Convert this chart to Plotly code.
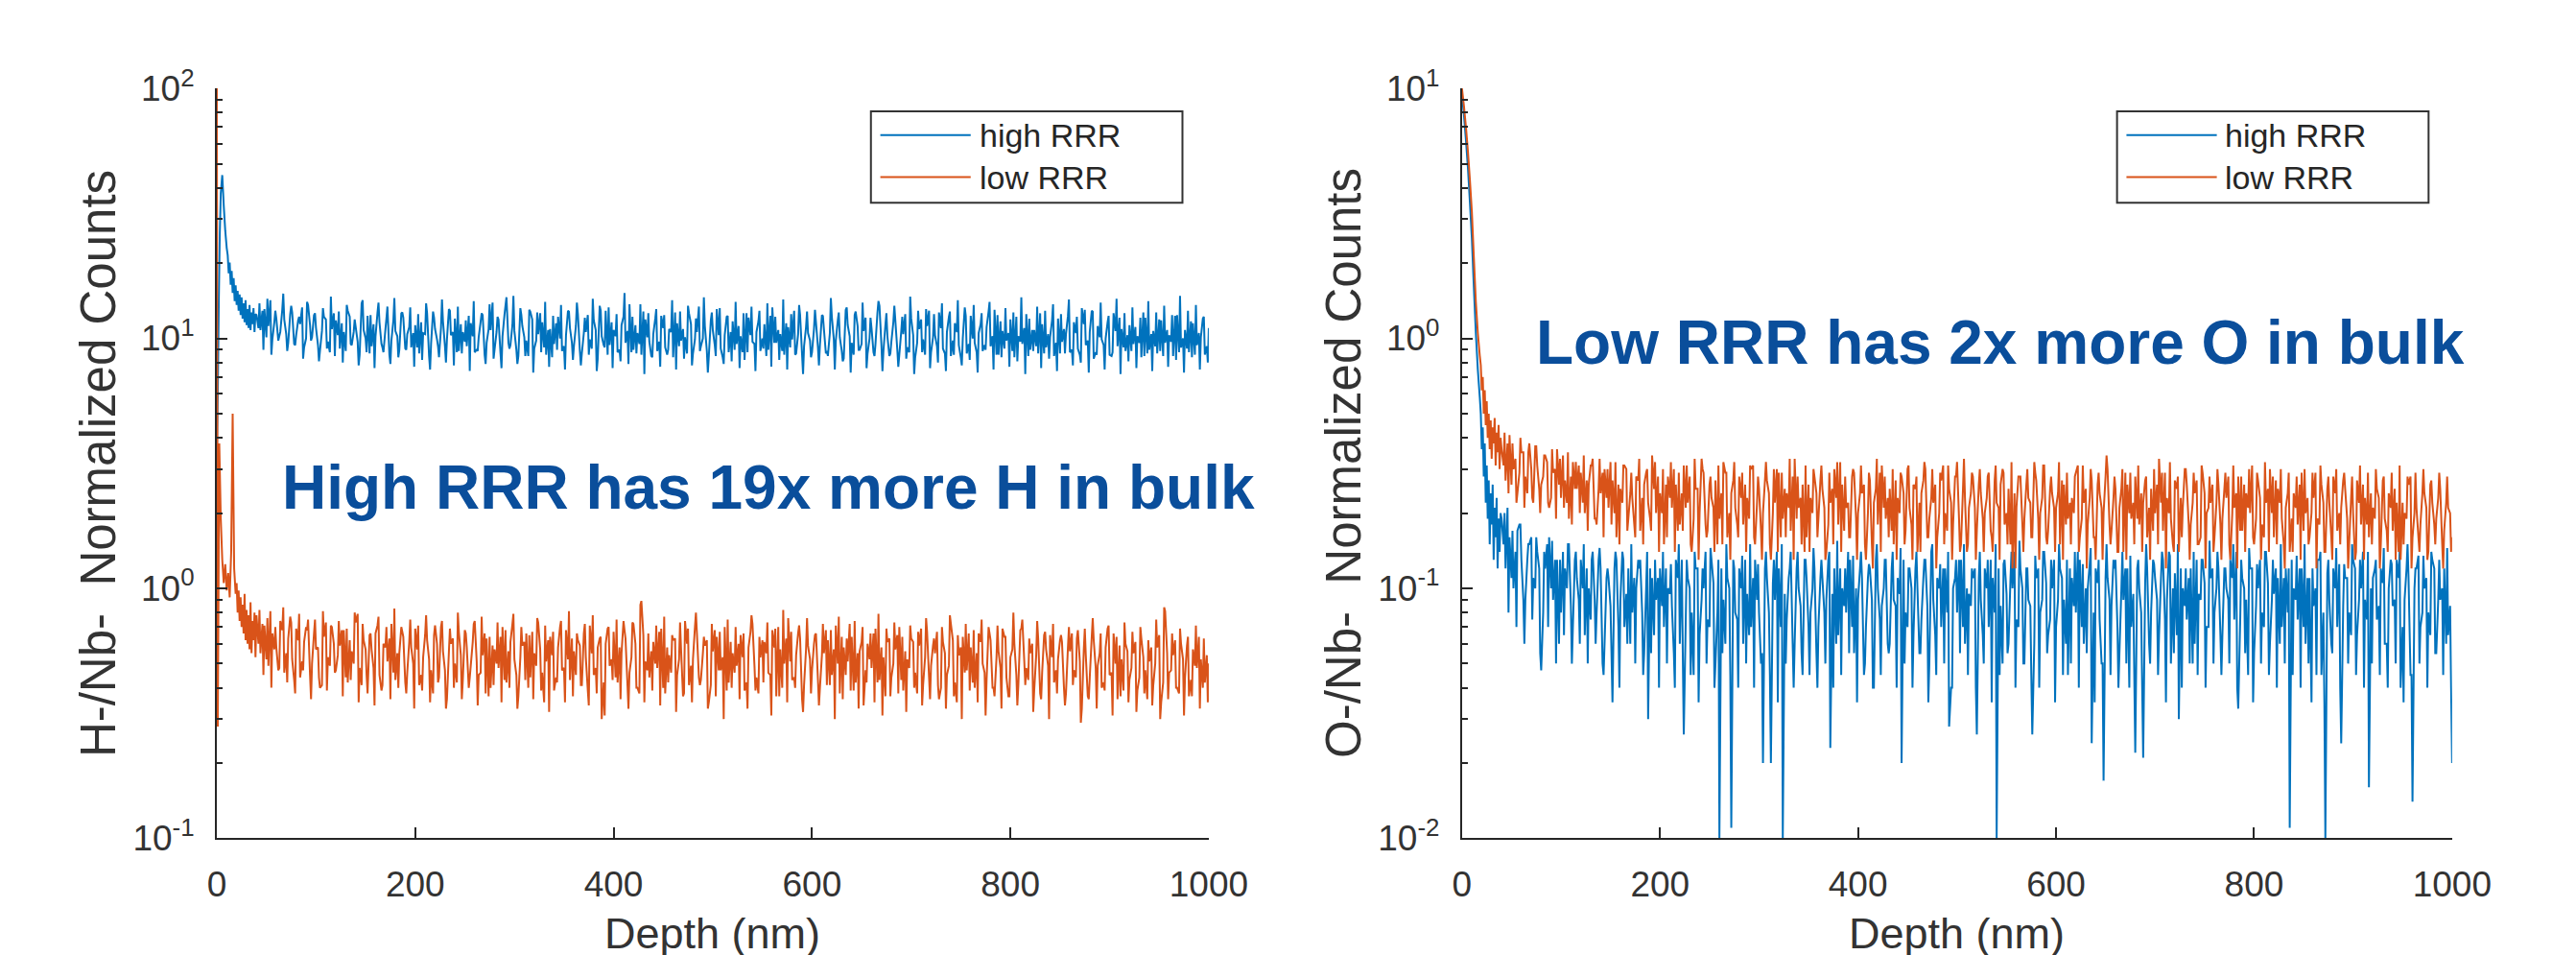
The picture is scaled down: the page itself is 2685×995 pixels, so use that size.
import plotly.graph_objects as go

# ---------------- data ----------------
X_TICKS = [0, 200, 400, 600, 800, 1000]
Y_TICKS_H = [0.1, 1, 10, 100]
Y_TEXT_H = ["10<sup>-1</sup>", "10<sup>0</sup>", "10<sup>1</sup>", "10<sup>2</sup>"]
Y_TICKS_O = [0.01, 0.1, 1, 10]
Y_TEXT_O = ["10<sup>-2</sup>", "10<sup>-1</sup>", "10<sup>0</sup>", "10<sup>1</sup>"]
SERIES_NAMES = ["high RRR", "low RRR"]

# near-surface part (depth nm, value)
H_HIGH_NEAR_DEPTH = [0, 1, 2, 3, 4, 5.5, 7, 8.5, 10, 11, 12, 13, 14, 15, 16, 17, 18, 19, 20, 21, 22, 23, 24, 25,
                     26, 27, 28, 29, 30, 31, 32, 33, 34, 35, 36, 37, 38, 39]
H_HIGH_NEAR = [3.5, 6, 14, 26, 38, 45, 34, 27, 23, 21.5, 18.2, 20.1, 16.4, 18.6, 15.2, 17.4, 14.1, 16.3, 13.6, 15.5,
               12.9, 15.0, 12.4, 14.6, 12.0, 13.8, 11.6, 14.2, 11.3, 13.1, 11.0, 13.6, 10.8, 12.7, 11.4, 13.2, 10.6, 12.5]

H_LOW_NEAR_DEPTH = [0, 1, 2.5, 4, 5.5, 7, 8.5, 10, 11.5, 13, 14.5, 16, 17.5, 19, 20, 21, 22, 23, 24, 25, 26, 27,
                    28, 29, 30, 31, 32, 33, 34, 35, 36, 37, 38, 39]
H_LOW_NEAR = [110, 0.28, 3.8, 1.9, 1.3, 1.05, 1.25, 0.98, 1.15, 0.92, 1.4, 5.0, 1.2, 0.95, 1.05, 0.8, 0.98, 0.74,
              0.92, 0.7, 0.86, 0.66, 0.95, 0.62, 0.82, 0.6, 0.78, 0.57, 0.88, 0.55, 0.74, 0.62, 0.8, 0.53]

O_NEAR_DEPTH = [0, 2, 4, 6, 8, 10, 12, 14, 16, 18, 19, 20, 21, 22, 23, 24, 25, 26, 27, 28, 29, 30, 31, 32, 33,
                34, 35, 36, 37, 38, 39]
O_HIGH_NEAR = [9.5, 7.8, 6.2, 4.8, 3.5, 2.5, 1.6, 1.05, 0.75, 0.58, 0.5, 0.36, 0.44, 0.28, 0.38, 0.22, 0.31, 0.19,
               0.27, 0.15, 0.24, 0.18, 0.26, 0.13, 0.21, 0.16, 0.23, 0.12, 0.19, 0.14, 0.2]
O_LOW_NEAR = [10, 8.5, 7.0, 5.6, 4.3, 3.2, 2.1, 1.4, 1.05, 0.85, 0.78, 0.62, 0.7, 0.5, 0.62, 0.45, 0.56, 0.4, 0.5,
              0.36, 0.47, 0.33, 0.44, 0.38, 0.48, 0.31, 0.42, 0.35, 0.45, 0.3, 0.4]

# bulk part: readings every 4 nm in three interleaved sets starting at 40, 42 and 43 nm
A_START, B_START, C_START, STEP = 40, 42, 43, 4

H_HIGH_A = [
    12.4, 10.8, 13.1, 11.2, 9.9, 12.0, 10.6, 11.9, 9.6, 12.7, 10.3, 11.4, 9.2, 13.6, 10.1, 11.0, 8.9, 12.2, 9.7, 10.9,
    11.8, 9.1, 10.6, 12.9, 9.4, 11.1, 8.6, 10.8, 12.3, 9.3, 10.2, 11.6, 8.8, 13.4, 9.8, 10.7, 9.0, 12.1, 10.4, 9.2,
    11.3, 8.7, 10.5, 12.6, 9.5, 10.9, 8.4, 11.7, 9.9, 10.3, 12.0, 8.9, 10.6, 9.3, 11.5, 8.8, 10.1, 12.4, 9.6, 10.8,
    9.0, 11.9, 10.2, 14.6, 9.4, 10.7, 8.5, 11.2, 9.8, 12.8, 9.1, 10.4, 11.6, 8.6, 10.9, 9.5, 12.2, 8.9, 10.3, 11.0,
    9.3, 12.5, 8.7, 10.6, 9.9, 11.8, 8.3, 10.2, 12.9, 9.4, 10.8, 8.8, 11.3, 9.6, 13.7, 9.0, 10.5, 8.6, 11.9, 9.7,
    10.4, 8.9, 12.3, 9.2, 10.9, 8.4, 11.5, 9.8, 10.1, 12.6, 8.7, 10.6, 9.3, 11.2, 8.5, 10.8, 13.1, 9.1, 10.3, 8.8,
    11.7, 9.5, 10.2, 8.2, 12.1, 9.7, 10.6, 8.9, 11.4, 9.0, 13.3, 9.6, 10.4, 8.6, 11.1, 9.9, 8.7, 12.4, 9.3, 10.5,
    8.8, 11.6, 9.4, 10.9, 8.5, 12.2, 9.8, 10.1, 8.3, 11.3, 9.6, 12.8, 9.0, 10.7, 8.7, 11.0, 9.5, 13.5, 8.9, 10.2,
    9.7, 11.8, 8.6, 10.4, 9.2, 12.0, 8.4, 10.9, 9.9, 11.2, 8.8, 10.3, 12.7, 9.1, 10.6, 8.5, 11.5, 9.4, 10.0, 8.7,
    12.3, 9.6, 10.5, 8.9, 11.1, 9.3, 13.0, 8.6, 10.7, 9.8, 11.9, 8.4, 10.2, 9.5, 12.5, 9.0, 10.8, 8.7, 11.4, 9.2,
    10.1, 8.5, 12.0, 9.7, 10.4, 8.8, 11.6, 9.1, 13.2, 9.4, 10.6, 8.3, 11.2, 9.9, 10.0, 8.6, 12.6, 9.3, 10.9, 8.9,
    11.3, 9.5, 10.2, 8.4, 12.1, 9.0, 10.7, 8.7, 11.8, 9.6, 10.3, 8.5, 12.4, 9.2, 10.8, 8.8, 11.5, 9.4, 10.1, 8.6,
    11.0,
]
H_HIGH_B = [
    11.0, 12.9, 10.1, 14.2, 11.6, 9.8, 13.0, 10.4, 12.5, 9.5, 11.8, 13.3, 10.0, 11.3, 12.4, 9.4, 10.7, 11.9, 8.8, 12.6,
    10.3, 11.5, 8.9, 12.2, 10.6, 9.7, 13.8, 10.0, 8.7, 11.4, 12.7, 9.5, 10.9, 8.6, 11.8, 10.2, 12.6, 9.1, 11.1, 10.5,
    9.2, 11.6, 10.4, 8.5, 12.8, 9.9, 11.0, 9.3, 13.1, 10.6, 8.8, 11.4, 9.7, 12.3, 10.2, 9.0, 11.7, 8.6, 10.9, 13.9,
    10.6, 8.7, 12.4, 9.6, 11.3, 9.0, 13.2, 10.1, 8.5, 11.9, 9.8, 12.6, 9.2, 10.8, 8.4, 11.5, 10.0, 9.3, 12.9, 9.6,
    11.2, 8.9, 10.5, 12.4, 9.1, 10.8, 13.5, 9.4, 8.6, 11.6, 10.2, 9.0, 12.2, 10.7, 8.8, 11.3, 9.5, 12.8, 10.1, 8.5,
    12.0, 9.7, 11.0, 8.6, 10.6, 12.7, 9.3, 10.9, 8.7, 11.4, 9.9, 13.4, 10.0, 8.9, 11.8, 9.4, 10.3, 8.4, 12.2, 10.6,
    9.0, 11.2, 8.8, 12.6, 10.3, 9.5, 11.7, 10.0, 8.5, 12.3, 9.6, 10.8, 8.9, 11.5, 9.2, 12.9, 10.4, 8.6, 11.1, 9.8,
    10.9, 9.2, 12.4, 8.7, 10.5, 9.9, 11.8, 8.9, 13.0, 10.2, 8.6, 11.2, 9.5, 12.1, 10.0, 8.8, 12.7, 9.4, 11.3, 8.5,
    11.6, 9.0, 10.7, 12.5, 8.8, 10.3, 9.6, 11.9, 8.6, 12.9, 10.1, 9.3, 11.0, 8.7, 12.2, 9.8, 10.6, 8.4, 13.3, 9.5,
    10.0, 8.8, 11.4, 9.4, 12.8, 10.2, 8.6, 11.7, 9.1, 10.5, 8.9, 12.2, 9.7, 11.0, 8.5, 10.8, 9.3, 12.6, 8.7, 10.4,
    11.8, 9.6, 8.7, 10.9, 12.3, 9.0, 10.5, 8.6, 11.4, 9.8, 12.9, 8.8, 10.1, 9.4, 11.6, 8.5, 10.7, 12.1, 9.2, 10.3,
    8.9, 11.1, 9.6, 12.7, 8.7, 10.4, 9.3, 11.9, 8.5, 10.8, 9.7, 12.3, 8.8, 10.0, 9.1, 11.7, 8.6, 10.5, 12.0, 9.3,
]
H_HIGH_C = [
    13.8, 9.0, 14.4, 8.6, 12.9, 10.2, 15.1, 8.9, 13.5, 9.4, 12.2, 8.3, 14.0, 9.8, 12.6, 8.1, 13.2, 9.1, 14.7, 8.5,
    12.8, 8.0, 13.6, 9.5, 11.9, 7.8, 14.2, 8.8, 12.4, 7.6, 13.9, 9.2, 12.0, 7.9, 14.5, 8.4, 12.7, 9.0, 13.3, 7.7,
    12.5, 8.2, 13.8, 7.5, 12.1, 9.3, 14.3, 8.0, 12.9, 7.8, 13.4, 8.7, 11.8, 7.4, 14.1, 8.9, 12.6, 7.9, 13.7, 8.3,
    12.2, 7.6, 13.5, 9.1, 14.8, 7.9, 12.4, 8.5, 13.0, 7.3, 12.7, 8.8, 14.0, 7.7, 12.3, 9.0, 13.6, 7.5, 12.8, 8.2,
    13.9, 7.8, 12.1, 8.6, 14.4, 7.4, 12.9, 9.2, 13.3, 7.6, 12.5, 8.1, 15.2, 7.9, 12.2, 8.7, 13.7, 7.2, 12.6, 8.4,
    13.1, 7.7, 12.4, 9.0, 14.2, 7.5, 12.8, 8.3, 13.5, 7.8, 12.0, 8.9, 14.6, 7.3, 12.7, 8.5, 13.2, 7.9, 12.3, 8.1,
    14.0, 7.6, 12.6, 8.8, 13.4, 7.4, 12.9, 9.1, 13.8, 7.7, 12.2, 8.2, 14.3, 7.5, 12.5, 8.6, 13.6, 7.2, 12.8, 8.4,
    13.0, 7.8, 12.3, 8.9, 14.5, 7.5, 12.7, 8.1, 13.3, 7.3, 12.4, 9.0, 13.9, 7.6, 12.1, 8.5, 14.1, 7.4, 12.6, 8.7,
    13.5, 7.7, 12.2, 8.3, 14.7, 7.2, 12.9, 8.8, 13.1, 7.6, 12.5, 8.0, 13.8, 7.4, 12.8, 8.6, 14.2, 7.8, 12.3, 8.2,
    13.6, 7.3, 12.6, 9.0, 14.0, 7.5, 12.4, 8.4, 13.2, 7.7, 12.7, 8.1, 14.6, 7.2, 12.0, 8.9, 13.4, 7.6, 12.9, 8.3,
    13.7, 7.4, 12.5, 8.7, 14.3, 7.8, 12.2, 8.0, 13.0, 7.3, 12.8, 8.6, 13.9, 7.5, 12.3, 8.8, 14.4, 7.2, 12.6, 8.1,
    13.3, 7.6, 12.1, 8.5, 14.1, 7.4, 12.7, 8.9, 13.5, 7.7, 12.4, 8.2, 14.8, 7.3, 12.9, 8.4, 13.6, 7.5, 12.2, 8.0,
]

H_LOW_A = [
    0.78, 0.55, 0.71, 0.49, 0.66, 0.58, 0.74, 0.46, 0.63, 0.52, 0.69, 0.44, 0.61, 0.75, 0.50, 0.57, 0.40, 0.64, 0.53, 0.70,
    0.47, 0.59, 0.68, 0.42, 0.56, 0.73, 0.48, 0.62, 0.38, 0.57, 0.66, 0.45, 0.60, 0.51, 0.72, 0.43, 0.55, 0.64, 0.46, 0.58,
    0.69, 0.41, 0.53, 0.62, 0.47, 0.71, 0.44, 0.56, 0.36, 0.60, 0.50, 0.67, 0.43, 0.58, 0.49, 0.74, 0.45, 0.54, 0.63, 0.40,
    0.57, 0.48, 0.70, 0.42, 0.61, 0.52, 0.37, 0.59, 0.66, 0.44, 0.55, 0.73, 0.46, 0.51, 0.64, 0.39, 0.58, 0.47, 0.68, 0.43,
    0.56, 0.62, 0.41, 0.53, 0.71, 0.45, 0.58, 0.30, 0.60, 0.49, 0.67, 0.42, 0.55, 0.63, 0.46, 0.72, 0.40, 0.89, 0.51, 0.44,
    0.61, 0.48, 0.69, 0.38, 0.54, 0.62, 0.45, 0.57, 0.74, 0.41, 0.52, 0.66, 0.43, 0.59, 0.35, 0.56, 0.64, 0.47, 0.70, 0.42,
    0.55, 0.49, 0.65, 0.39, 0.58, 0.72, 0.44, 0.53, 0.61, 0.46, 0.68, 0.37, 0.57, 0.50, 0.76, 0.43, 0.54, 0.63, 0.41, 0.59,
    0.47, 0.66, 0.40, 0.55, 0.62, 0.45, 0.71, 0.38, 0.58, 0.51, 0.64, 0.42, 0.56, 0.34, 0.60, 0.48, 0.69, 0.43, 0.53, 0.61,
    0.44, 0.57, 0.70, 0.39, 0.52, 0.63, 0.46, 0.59, 0.41, 0.67, 0.49, 0.55, 0.36, 0.61, 0.45, 0.72, 0.42, 0.54, 0.64, 0.47,
    0.58, 0.40, 0.66, 0.50, 0.43, 0.62, 0.37, 0.56, 0.69, 0.44, 0.53, 0.60, 0.41, 0.75, 0.48, 0.55, 0.39, 0.63, 0.46, 0.57,
    0.65, 0.42, 0.52, 0.61, 0.38, 0.56, 0.47, 0.68, 0.33, 0.54, 0.44, 0.62, 0.49, 0.40, 0.58, 0.45, 0.66, 0.36, 0.52, 0.60,
    0.43, 0.55, 0.39, 0.63, 0.47, 0.51, 0.41, 0.58, 0.35, 0.81, 0.46, 0.54, 0.40, 0.60, 0.44, 0.37, 0.57, 0.48, 0.52, 0.42,
    0.50,
]
H_LOW_B = [
    0.60, 0.72, 0.52, 0.81, 0.57, 0.47, 0.68, 0.55, 0.77, 0.43, 0.62, 0.51, 0.70, 0.45, 0.66, 0.58, 0.41, 0.73, 0.49, 0.60,
    0.54, 0.68, 0.44, 0.62, 0.50, 0.79, 0.41, 0.57, 0.65, 0.48, 0.71, 0.39, 0.58, 0.63, 0.46, 0.55, 0.70, 0.42, 0.61, 0.50,
    0.57, 0.45, 0.65, 0.52, 0.38, 0.60, 0.70, 0.47, 0.56, 0.63, 0.42, 0.54, 0.68, 0.40, 0.61, 0.51, 0.46, 0.66, 0.37, 0.59,
    0.50, 0.64, 0.43, 0.56, 0.72, 0.45, 0.53, 0.61, 0.40, 0.67, 0.49, 0.57, 0.35, 0.62, 0.54, 0.44, 0.70, 0.48, 0.52, 0.63,
    0.45, 0.59, 0.66, 0.39, 0.55, 0.48, 0.63, 0.42, 0.69, 0.52, 0.44, 0.58, 0.74, 0.41, 0.53, 0.60, 0.38, 0.65, 0.47, 0.56,
    0.50, 0.67, 0.40, 0.58, 0.46, 0.63, 0.52, 0.37, 0.60, 0.49, 0.70, 0.44, 0.55, 0.62, 0.41, 0.68, 0.47, 0.53, 0.39, 0.61,
    0.46, 0.60, 0.53, 0.42, 0.67, 0.49, 0.38, 0.62, 0.55, 0.45, 0.58, 0.70, 0.40, 0.63, 0.51, 0.44, 0.66, 0.36, 0.57, 0.52,
    0.60, 0.43, 0.54, 0.68, 0.41, 0.57, 0.50, 0.64, 0.45, 0.72, 0.39, 0.55, 0.61, 0.47, 0.52, 0.66, 0.42, 0.58, 0.37, 0.63,
    0.50, 0.65, 0.43, 0.56, 0.48, 0.61, 0.38, 0.69, 0.53, 0.44, 0.59, 0.67, 0.40, 0.55, 0.49, 0.62, 0.35, 0.58, 0.46, 0.66,
    0.42, 0.55, 0.61, 0.46, 0.70, 0.40, 0.53, 0.48, 0.64, 0.37, 0.57, 0.45, 0.68, 0.51, 0.43, 0.60, 0.54, 0.38, 0.65, 0.49,
    0.53, 0.47, 0.62, 0.40, 0.58, 0.66, 0.44, 0.51, 0.57, 0.37, 0.64, 0.48, 0.55, 0.42, 0.69, 0.46, 0.50, 0.59, 0.39, 0.56,
    0.48, 0.61, 0.44, 0.53, 0.36, 0.58, 0.50, 0.65, 0.42, 0.55, 0.47, 0.62, 0.38, 0.52, 0.59, 0.43, 0.49, 0.64, 0.40, 0.54,
]
H_LOW_C = [
    0.82, 0.45, 0.76, 0.40, 0.70, 0.48, 0.84, 0.42, 0.73, 0.38, 0.79, 0.47, 0.68, 0.36, 0.75, 0.44, 0.81, 0.39, 0.71, 0.46,
    0.74, 0.37, 0.69, 0.43, 0.80, 0.35, 0.72, 0.45, 0.66, 0.34, 0.77, 0.41, 0.70, 0.36, 0.83, 0.40, 0.67, 0.38, 0.75, 0.33,
    0.71, 0.39, 0.78, 0.35, 0.65, 0.42, 0.74, 0.33, 0.69, 0.40, 0.80, 0.36, 0.66, 0.44, 0.72, 0.34, 0.77, 0.38, 0.64, 0.41,
    0.73, 0.35, 0.68, 0.40, 0.79, 0.33, 0.70, 0.43, 0.65, 0.36, 0.76, 0.39, 0.71, 0.32, 0.67, 0.42, 0.74, 0.35, 0.81, 0.37,
    0.66, 0.41, 0.72, 0.34, 0.78, 0.38, 0.64, 0.31, 0.70, 0.43, 0.75, 0.36, 0.68, 0.33, 0.73, 0.40, 0.86, 0.35, 0.66, 0.39,
    0.71, 0.34, 0.77, 0.42, 0.65, 0.32, 0.73, 0.38, 0.69, 0.35, 0.80, 0.41, 0.64, 0.33, 0.72, 0.37, 0.67, 0.30, 0.75, 0.40,
    0.70, 0.36, 0.66, 0.33, 0.78, 0.39, 0.64, 0.42, 0.73, 0.31, 0.69, 0.37, 0.82, 0.35, 0.67, 0.40, 0.71, 0.32, 0.76, 0.38,
    0.65, 0.34, 0.72, 0.41, 0.68, 0.30, 0.77, 0.36, 0.63, 0.39, 0.74, 0.33, 0.70, 0.42, 0.66, 0.35, 0.79, 0.31, 0.69, 0.37,
    0.73, 0.38, 0.64, 0.32, 0.71, 0.40, 0.67, 0.34, 0.76, 0.36, 0.63, 0.41, 0.70, 0.33, 0.78, 0.37, 0.65, 0.30, 0.72, 0.39,
    0.68, 0.35, 0.75, 0.31, 0.66, 0.40, 0.71, 0.33, 0.64, 0.37, 0.80, 0.34, 0.69, 0.41, 0.63, 0.32, 0.74, 0.36, 0.67, 0.30,
    0.72, 0.38, 0.65, 0.34, 0.70, 0.41, 0.63, 0.29, 0.69, 0.36, 0.76, 0.33, 0.66, 0.39, 0.71, 0.31, 0.64, 0.37, 0.73, 0.35,
    0.67, 0.32, 0.70, 0.38, 0.62, 0.34, 0.75, 0.30, 0.84, 0.36, 0.66, 0.40, 0.69, 0.31, 0.64, 0.37, 0.71, 0.33, 0.63, 0.35,
]

O_HIGH_A = [
    0.19, 0.12, 0.16, 0.10, 0.17, 0.13, 0.09, 0.15, 0.11, 0.14, 0.047, 0.12, 0.16, 0.09, 0.13, 0.08, 0.12, 0.15, 0.07, 0.11,
    0.13, 0.065, 0.10, 0.14, 0.08, 0.12, 0.06, 0.11, 0.035, 0.13, 0.09, 0.07, 0.12, 0.08, 0.10, 0.13, 0.055, 0.03, 0.11, 0.09,
    0.12, 0.07, 0.10, 0.085, 0.13, 0.06, 0.026, 0.11, 0.08, 0.12, 0.065, 0.10, 0.075, 0.13, 0.05, 0.010, 0.09, 0.11, 0.011, 0.08,
    0.12, 0.06, 0.095, 0.07, 0.13, 0.08, 0.020, 0.11, 0.020, 0.09, 0.12, 0.010, 0.075, 0.14, 0.06, 0.10, 0.045, 0.11, 0.08, 0.12,
    0.07, 0.11, 0.09, 0.023, 0.12, 0.065, 0.10, 0.08, 0.13, 0.055, 0.09, 0.11, 0.07, 0.12, 0.04, 0.10, 0.085, 0.13, 0.06, 0.09,
    0.11, 0.020, 0.08, 0.12, 0.065, 0.10, 0.075, 0.13, 0.05, 0.09, 0.11, 0.07, 0.12, 0.028, 0.10, 0.08, 0.13, 0.06, 0.095, 0.11,
    0.026, 0.09, 0.12, 0.07, 0.11, 0.010, 0.085, 0.13, 0.06, 0.10, 0.075, 0.12, 0.05, 0.09, 0.026, 0.11, 0.08, 0.14, 0.065, 0.10,
    0.07, 0.12, 0.09, 0.045, 0.11, 0.08, 0.13, 0.06, 0.10, 0.024, 0.12, 0.075, 0.017, 0.11, 0.085, 0.13, 0.055, 0.09, 0.12, 0.07,
    0.022, 0.10, 0.021, 0.12, 0.08, 0.11, 0.065, 0.13, 0.09, 0.05, 0.115, 0.030, 0.10, 0.075, 0.12, 0.06, 0.095, 0.13, 0.07, 0.11,
    0.08, 0.12, 0.065, 0.10, 0.13, 0.075, 0.033, 0.11, 0.09, 0.12, 0.055, 0.10, 0.08, 0.14, 0.06, 0.095, 0.11, 0.07, 0.12, 0.011,
    0.10, 0.075, 0.12, 0.06, 0.11, 0.085, 0.13, 0.045, 0.010, 0.09, 0.12, 0.07, 0.024, 0.11, 0.08, 0.13, 0.065, 0.10, 0.09, 0.016,
    0.11, 0.075, 0.12, 0.06, 0.10, 0.085, 0.13, 0.04, 0.09, 0.11, 0.014, 0.12, 0.07, 0.10, 0.08, 0.13, 0.055, 0.09, 0.12, 0.065,
    0.02,
]
O_HIGH_B = [
    0.15, 0.21, 0.11, 0.14, 0.18, 0.09, 0.13, 0.16, 0.10, 0.12, 0.08, 0.15, 0.10, 0.13, 0.06, 0.14, 0.10, 0.085, 0.13, 0.09,
    0.10, 0.12, 0.075, 0.09, 0.13, 0.05, 0.11, 0.085, 0.12, 0.07, 0.14, 0.095, 0.06, 0.11, 0.13, 0.08, 0.10, 0.12, 0.065, 0.11,
    0.085, 0.12, 0.095, 0.055, 0.11, 0.13, 0.075, 0.10, 0.045, 0.12, 0.09, 0.14, 0.07, 0.105, 0.08, 0.12, 0.06, 0.10, 0.13, 0.075,
    0.10, 0.13, 0.065, 0.11, 0.09, 0.05, 0.12, 0.08, 0.105, 0.14, 0.07, 0.095, 0.11, 0.06, 0.12, 0.085, 0.13, 0.07, 0.10, 0.055,
    0.11, 0.08, 0.13, 0.095, 0.06, 0.12, 0.085, 0.14, 0.07, 0.10, 0.12, 0.045, 0.11, 0.09, 0.13, 0.075, 0.10, 0.06, 0.12, 0.085,
    0.095, 0.13, 0.07, 0.10, 0.12, 0.055, 0.11, 0.085, 0.14, 0.065, 0.10, 0.12, 0.08, 0.04, 0.11, 0.13, 0.07, 0.10, 0.085, 0.12,
    0.11, 0.065, 0.10, 0.13, 0.08, 0.12, 0.05, 0.095, 0.11, 0.14, 0.07, 0.10, 0.12, 0.085, 0.06, 0.12, 0.09, 0.105, 0.075, 0.13,
    0.09, 0.11, 0.06, 0.12, 0.085, 0.14, 0.07, 0.10, 0.125, 0.08, 0.105, 0.05, 0.11, 0.09, 0.13, 0.07, 0.10, 0.12, 0.04, 0.095,
    0.12, 0.08, 0.105, 0.06, 0.13, 0.09, 0.11, 0.075, 0.14, 0.10, 0.065, 0.12, 0.085, 0.11, 0.05, 0.13, 0.09, 0.105, 0.07, 0.12,
    0.10, 0.065, 0.12, 0.09, 0.11, 0.14, 0.075, 0.10, 0.045, 0.12, 0.085, 0.13, 0.07, 0.105, 0.09, 0.12, 0.06, 0.11, 0.08, 0.13,
    0.09, 0.12, 0.07, 0.11, 0.035, 0.10, 0.13, 0.08, 0.115, 0.06, 0.10, 0.125, 0.085, 0.11, 0.065, 0.12, 0.09, 0.14, 0.075, 0.10,
    0.12, 0.085, 0.105, 0.06, 0.13, 0.09, 0.11, 0.07, 0.12, 0.045, 0.10, 0.135, 0.08, 0.11, 0.065, 0.12, 0.09, 0.10, 0.06, 0.085,
]
O_HIGH_C = [
    0.20, 0.08, 0.17, 0.07, 0.18, 0.06, 0.15, 0.075, 0.16, 0.055, 0.14, 0.07, 0.155, 0.05, 0.13, 0.065, 0.15, 0.05, 0.14, 0.06,
    0.15, 0.05, 0.13, 0.06, 0.145, 0.045, 0.12, 0.055, 0.14, 0.04, 0.13, 0.06, 0.15, 0.05, 0.12, 0.045, 0.14, 0.055, 0.13, 0.04,
    0.14, 0.05, 0.125, 0.04, 0.15, 0.055, 0.13, 0.045, 0.14, 0.035, 0.12, 0.05, 0.145, 0.04, 0.13, 0.055, 0.15, 0.045, 0.12, 0.04,
    0.135, 0.05, 0.15, 0.04, 0.125, 0.055, 0.14, 0.045, 0.13, 0.035, 0.15, 0.05, 0.12, 0.04, 0.14, 0.055, 0.13, 0.045, 0.145, 0.04,
    0.13, 0.05, 0.14, 0.04, 0.155, 0.045, 0.12, 0.055, 0.135, 0.035, 0.14, 0.05, 0.125, 0.04, 0.15, 0.045, 0.13, 0.055, 0.14, 0.04,
    0.145, 0.05, 0.12, 0.04, 0.14, 0.055, 0.13, 0.035, 0.15, 0.045, 0.125, 0.05, 0.14, 0.04, 0.13, 0.055, 0.15, 0.045, 0.12, 0.04,
    0.14, 0.05, 0.13, 0.035, 0.15, 0.045, 0.125, 0.055, 0.14, 0.04, 0.155, 0.05, 0.12, 0.045, 0.135, 0.04, 0.14, 0.055, 0.13, 0.035,
    0.15, 0.045, 0.13, 0.05, 0.14, 0.04, 0.125, 0.055, 0.145, 0.035, 0.13, 0.05, 0.15, 0.045, 0.12, 0.04, 0.14, 0.05, 0.135, 0.045,
    0.13, 0.04, 0.15, 0.05, 0.125, 0.045, 0.14, 0.035, 0.135, 0.055, 0.15, 0.04, 0.12, 0.05, 0.14, 0.045, 0.13, 0.04, 0.155, 0.05,
    0.14, 0.045, 0.12, 0.05, 0.15, 0.04, 0.13, 0.055, 0.145, 0.035, 0.125, 0.05, 0.14, 0.045, 0.13, 0.04, 0.15, 0.05, 0.12, 0.045,
    0.135, 0.04, 0.15, 0.05, 0.12, 0.045, 0.14, 0.035, 0.13, 0.055, 0.145, 0.04, 0.125, 0.05, 0.15, 0.045, 0.13, 0.04, 0.14, 0.05,
    0.13, 0.045, 0.145, 0.04, 0.125, 0.05, 0.14, 0.035, 0.15, 0.045, 0.12, 0.05, 0.135, 0.04, 0.14, 0.055, 0.13, 0.045, 0.145, 0.04,
]

O_LOW_A = [
    0.36, 0.27, 0.41, 0.30, 0.24, 0.35, 0.28, 0.38, 0.22, 0.31, 0.26, 0.34, 0.21, 0.29, 0.36, 0.23, 0.27, 0.19, 0.32, 0.25,
    0.29, 0.20, 0.26, 0.33, 0.18, 0.24, 0.30, 0.21, 0.27, 0.16, 0.25, 0.31, 0.19, 0.23, 0.28, 0.17, 0.26, 0.22, 0.34, 0.20,
    0.24, 0.15, 0.28, 0.21, 0.26, 0.18, 0.31, 0.22, 0.14, 0.25, 0.20, 0.29, 0.17, 0.23, 0.27, 0.19, 0.32, 0.16, 0.24, 0.21,
    0.28, 0.18, 0.23, 0.30, 0.15, 0.25, 0.20, 0.27, 0.13, 0.22, 0.29, 0.19, 0.24, 0.17, 0.33, 0.21, 0.26, 0.16, 0.23, 0.28,
    0.19, 0.25, 0.14, 0.22, 0.30, 0.18, 0.26, 0.21, 0.16, 0.29, 0.20, 0.24, 0.13, 0.27, 0.22, 0.18, 0.31, 0.19, 0.25, 0.15,
    0.23, 0.28, 0.17, 0.21, 0.26, 0.14, 0.24, 0.30, 0.19, 0.22, 0.16, 0.27, 0.20, 0.25, 0.18, 0.32, 0.15, 0.23, 0.21, 0.28,
    0.17, 0.24, 0.20, 0.29, 0.14, 0.22, 0.26, 0.18, 0.25, 0.12, 0.21, 0.28, 0.19, 0.23, 0.16, 0.27, 0.20, 0.31, 0.17, 0.24,
    0.21, 0.15, 0.26, 0.19, 0.23, 0.29, 0.16, 0.22, 0.18, 0.27, 0.13, 0.24, 0.20, 0.30, 0.17, 0.25, 0.21, 0.14, 0.26, 0.19,
    0.28, 0.18, 0.22, 0.16, 0.25, 0.20, 0.33, 0.17, 0.23, 0.19, 0.27, 0.14, 0.21, 0.26, 0.18, 0.24, 0.15, 0.29, 0.20, 0.22,
    0.16, 0.26, 0.19, 0.23, 0.13, 0.21, 0.28, 0.17, 0.24, 0.20, 0.15, 0.27, 0.18, 0.22, 0.30, 0.16, 0.25, 0.19, 0.21, 0.14,
    0.24, 0.18, 0.29, 0.20, 0.16, 0.23, 0.19, 0.26, 0.14, 0.22, 0.28, 0.17, 0.21, 0.25, 0.15, 0.20, 0.27, 0.18, 0.23, 0.16,
    0.21, 0.25, 0.15, 0.19, 0.24, 0.17, 0.22, 0.13, 0.20, 0.26, 0.16, 0.21, 0.18, 0.24, 0.14, 0.22, 0.19, 0.25, 0.17, 0.21,
    0.16,
]
O_LOW_B = [
    0.31, 0.38, 0.26, 0.33, 0.29, 0.35, 0.24, 0.30, 0.37, 0.25, 0.28, 0.32, 0.23, 0.30, 0.26, 0.34, 0.22, 0.28, 0.25, 0.31,
    0.22, 0.27, 0.31, 0.19, 0.25, 0.29, 0.23, 0.32, 0.20, 0.26, 0.22, 0.30, 0.24, 0.18, 0.27, 0.23, 0.29, 0.19, 0.25, 0.28,
    0.20, 0.26, 0.23, 0.30, 0.17, 0.24, 0.21, 0.28, 0.19, 0.25, 0.33, 0.18, 0.26, 0.21, 0.15, 0.24, 0.29, 0.20, 0.27, 0.18,
    0.23, 0.26, 0.19, 0.31, 0.22, 0.17, 0.27, 0.24, 0.20, 0.30, 0.16, 0.25, 0.21, 0.28, 0.19, 0.23, 0.14, 0.26, 0.20, 0.24,
    0.27, 0.21, 0.18, 0.25, 0.23, 0.32, 0.17, 0.22, 0.28, 0.19, 0.24, 0.26, 0.20, 0.15, 0.25, 0.29, 0.21, 0.23, 0.17, 0.27,
    0.20, 0.24, 0.30, 0.18, 0.25, 0.22, 0.27, 0.16, 0.23, 0.26, 0.20, 0.31, 0.17, 0.22, 0.28, 0.19, 0.25, 0.14, 0.24, 0.21,
    0.26, 0.19, 0.23, 0.17, 0.27, 0.21, 0.30, 0.20, 0.15, 0.24, 0.28, 0.18, 0.26, 0.22, 0.32, 0.19, 0.23, 0.16, 0.25, 0.21,
    0.24, 0.27, 0.18, 0.22, 0.20, 0.31, 0.19, 0.25, 0.23, 0.16, 0.26, 0.21, 0.28, 0.18, 0.23, 0.14, 0.25, 0.29, 0.20, 0.22,
    0.19, 0.24, 0.27, 0.21, 0.17, 0.26, 0.22, 0.29, 0.20, 0.15, 0.25, 0.23, 0.30, 0.18, 0.22, 0.27, 0.16, 0.24, 0.21, 0.26,
    0.22, 0.18, 0.25, 0.28, 0.20, 0.24, 0.17, 0.26, 0.21, 0.31, 0.19, 0.23, 0.16, 0.25, 0.20, 0.27, 0.22, 0.15, 0.24, 0.19,
    0.21, 0.26, 0.17, 0.23, 0.20, 0.29, 0.18, 0.22, 0.25, 0.16, 0.24, 0.20, 0.27, 0.19, 0.23, 0.13, 0.22, 0.26, 0.18, 0.24,
    0.19, 0.23, 0.27, 0.17, 0.21, 0.25, 0.14, 0.22, 0.19, 0.28, 0.20, 0.16, 0.24, 0.21, 0.26, 0.18, 0.23, 0.15, 0.22, 0.20,
]
O_LOW_C = [
    0.42, 0.24, 0.38, 0.22, 0.40, 0.21, 0.35, 0.23, 0.37, 0.20, 0.34, 0.22, 0.36, 0.19, 0.33, 0.21, 0.35, 0.18, 0.32, 0.20,
    0.34, 0.17, 0.31, 0.19, 0.33, 0.16, 0.30, 0.18, 0.32, 0.15, 0.31, 0.17, 0.29, 0.16, 0.33, 0.15, 0.30, 0.17, 0.32, 0.14,
    0.30, 0.16, 0.32, 0.14, 0.29, 0.17, 0.31, 0.15, 0.33, 0.13, 0.30, 0.16, 0.28, 0.14, 0.31, 0.15, 0.29, 0.13, 0.32, 0.16,
    0.29, 0.14, 0.31, 0.16, 0.28, 0.13, 0.32, 0.15, 0.30, 0.14, 0.29, 0.16, 0.33, 0.13, 0.28, 0.15, 0.31, 0.14, 0.30, 0.16,
    0.31, 0.13, 0.29, 0.15, 0.32, 0.14, 0.28, 0.16, 0.30, 0.13, 0.31, 0.15, 0.29, 0.12, 0.33, 0.14, 0.28, 0.16, 0.30, 0.13,
    0.29, 0.15, 0.31, 0.13, 0.28, 0.14, 0.32, 0.16, 0.30, 0.12, 0.29, 0.15, 0.31, 0.13, 0.28, 0.14, 0.33, 0.15, 0.29, 0.13,
    0.30, 0.14, 0.28, 0.16, 0.31, 0.13, 0.29, 0.15, 0.32, 0.12, 0.28, 0.14, 0.30, 0.16, 0.29, 0.13, 0.31, 0.15, 0.28, 0.14,
    0.32, 0.13, 0.29, 0.15, 0.28, 0.14, 0.31, 0.12, 0.30, 0.16, 0.29, 0.13, 0.34, 0.15, 0.28, 0.14, 0.30, 0.13, 0.29, 0.15,
    0.31, 0.14, 0.28, 0.13, 0.30, 0.15, 0.29, 0.12, 0.32, 0.14, 0.28, 0.16, 0.30, 0.13, 0.29, 0.15, 0.31, 0.12, 0.28, 0.14,
    0.30, 0.13, 0.29, 0.15, 0.31, 0.12, 0.28, 0.14, 0.30, 0.16, 0.29, 0.13, 0.32, 0.14, 0.28, 0.15, 0.30, 0.12, 0.29, 0.14,
    0.28, 0.13, 0.30, 0.15, 0.29, 0.12, 0.31, 0.14, 0.28, 0.13, 0.30, 0.15, 0.29, 0.12, 0.28, 0.14, 0.31, 0.13, 0.29, 0.15,
    0.30, 0.12, 0.28, 0.14, 0.29, 0.13, 0.31, 0.15, 0.28, 0.12, 0.29, 0.14, 0.30, 0.13, 0.27, 0.15, 0.29, 0.12, 0.28, 0.14,
]

ANNOT_H = "High RRR has 19x more H in bulk"
ANNOT_O = "Low RRR has 2x more O in bulk"

# ---------------- styling ----------------
W, H = 2685, 995
BLUE = "#0072BD"
ORANGE = "#D95319"
INK = "#262626"
TXT = "#333333"
NAVY = "#0A4E9B"
FONT = "Liberation Sans, Arial, Helvetica, sans-serif"
LW = 2.0


def merge(near_d, near_v, a_vals, b_vals, c_vals):
    pts = list(zip(near_d, near_v))
    pts += [(A_START + STEP * i, v) for i, v in enumerate(a_vals)]
    pts += [(B_START + STEP * i, v) for i, v in enumerate(b_vals)]
    pts += [(C_START + STEP * i, v) for i, v in enumerate(c_vals)]
    pts.sort(key=lambda p: p[0])
    return [p[0] for p in pts], [p[1] for p in pts]


def px(x):
    return x / W


def py(y):
    return 1 - y / H


fig = go.Figure()

panels = [
    ("x", "y", merge(H_HIGH_NEAR_DEPTH, H_HIGH_NEAR, H_HIGH_A, H_HIGH_B, H_HIGH_C),
     merge(H_LOW_NEAR_DEPTH, H_LOW_NEAR, H_LOW_A, H_LOW_B, H_LOW_C)),
    ("x2", "y2", merge(O_NEAR_DEPTH, O_HIGH_NEAR, O_HIGH_A, O_HIGH_B, O_HIGH_C),
     merge(O_NEAR_DEPTH, O_LOW_NEAR, O_LOW_A, O_LOW_B, O_LOW_C)),
]
for xa, ya, (hx, hy), (lx, ly) in panels:
    fig.add_trace(go.Scatter(x=hx, y=hy, mode="lines",
                             line=dict(color=BLUE, width=LW, simplify=False),
                             name=SERIES_NAMES[0], xaxis=xa, yaxis=ya, showlegend=False))
    fig.add_trace(go.Scatter(x=lx, y=ly, mode="lines",
                             line=dict(color=ORANGE, width=LW, simplify=False),
                             name=SERIES_NAMES[1], xaxis=xa, yaxis=ya, showlegend=False))


def minor_vals(lo_exp, hi_exp):
    out = []
    for e in range(lo_exp, hi_exp):
        for m in range(2, 10):
            out.append(m * 10 ** e)
    return out


common = dict(showline=True, linecolor=INK, linewidth=2, ticks="inside", ticklen=11,
              tickwidth=2, tickcolor=INK, showgrid=False, zeroline=False, mirror=False,
              tickfont=dict(family=FONT, size=37, color=TXT))

Y_DOM = [py(881), py(61)]
fig.update_layout(
    width=W, height=H, margin=dict(l=0, r=0, t=0, b=0),
    paper_bgcolor="white", plot_bgcolor="white", showlegend=False,
    xaxis=dict(domain=[px(212), px(1266)], range=[0, 1000], tickvals=X_TICKS, anchor="y",
               ticklabelstandoff=14, **common),
    yaxis=dict(domain=Y_DOM, type="log", range=[-1, 2], tickvals=Y_TICKS_H, ticktext=Y_TEXT_H,
               anchor="x", ticklabelstandoff=14,
               minor=dict(ticks="inside", ticklen=6, tickwidth=1.5, tickcolor=INK,
                          tickmode="array", tickvals=minor_vals(-1, 2)), **common),
    xaxis2=dict(domain=[px(1535), px(2587)], range=[0, 1000], tickvals=X_TICKS, anchor="y2",
                ticklabelstandoff=14, **common),
    yaxis2=dict(domain=Y_DOM, type="log", range=[-2, 1], tickvals=Y_TICKS_O, ticktext=Y_TEXT_O,
                anchor="x2", ticklabelstandoff=14,
                minor=dict(ticks="inside", ticklen=6, tickwidth=1.5, tickcolor=INK,
                           tickmode="array", tickvals=minor_vals(-2, 1)), **common),
)

annotations = []
shapes = []

# axis titles
for xc, ytitle in [(86, "H-/Nb-  Normalized Counts"), (1410, "O-/Nb-  Normalized Counts")]:
    annotations.append(dict(x=px(xc), y=py(471), xref="paper", yref="paper", text=ytitle,
                            textangle=-90, showarrow=False, xanchor="center", yanchor="middle",
                            font=dict(family=FONT, size=51, color=TXT)))
for xc in [(212 + 1266) / 2, (1535 + 2587) / 2]:
    annotations.append(dict(x=px(xc), y=py(1014), xref="paper", yref="paper", text="Depth (nm)",
                            showarrow=False, xanchor="center", yanchor="bottom",
                            font=dict(family=FONT, size=45, color=TXT)))

# big statements
annotations.append(dict(x=px(279), y=py(497), xref="paper", yref="paper", text="<b>%s</b>" % ANNOT_H,
                        showarrow=False, xanchor="left", yanchor="middle",
                        font=dict(family=FONT, size=64, color=NAVY)))
annotations.append(dict(x=px(1612), y=py(339), xref="paper", yref="paper", text="<b>%s</b>" % ANNOT_O,
                        showarrow=False, xanchor="left", yanchor="middle",
                        font=dict(family=FONT, size=64, color=NAVY)))

# legends (drawn as boxes with sample lines)
for bx0, bx1 in [(907, 1238), (2231, 2562)]:
    shapes.append(dict(type="rect", xref="paper", yref="paper", x0=px(bx0), x1=px(bx1),
                       y0=py(186), y1=py(86), line=dict(color="#333333", width=2),
                       fillcolor="white", layer="above"))
    for name, color, yy in [(SERIES_NAMES[0], BLUE, 112), (SERIES_NAMES[1], ORANGE, 158)]:
        shapes.append(dict(type="line", xref="paper", yref="paper", x0=px(bx0 + 10), x1=px(bx0 + 106),
                           y0=py(yy), y1=py(yy), line=dict(color=color, width=2), layer="above"))
        annotations.append(dict(x=px(bx0 + 113), y=py(yy), xref="paper", yref="paper", text=name,
                                showarrow=False, xanchor="left", yanchor="middle",
                                font=dict(family=FONT, size=34, color=INK)))

fig.update_layout(annotations=annotations, shapes=shapes)
fig.write_html("out.html")
